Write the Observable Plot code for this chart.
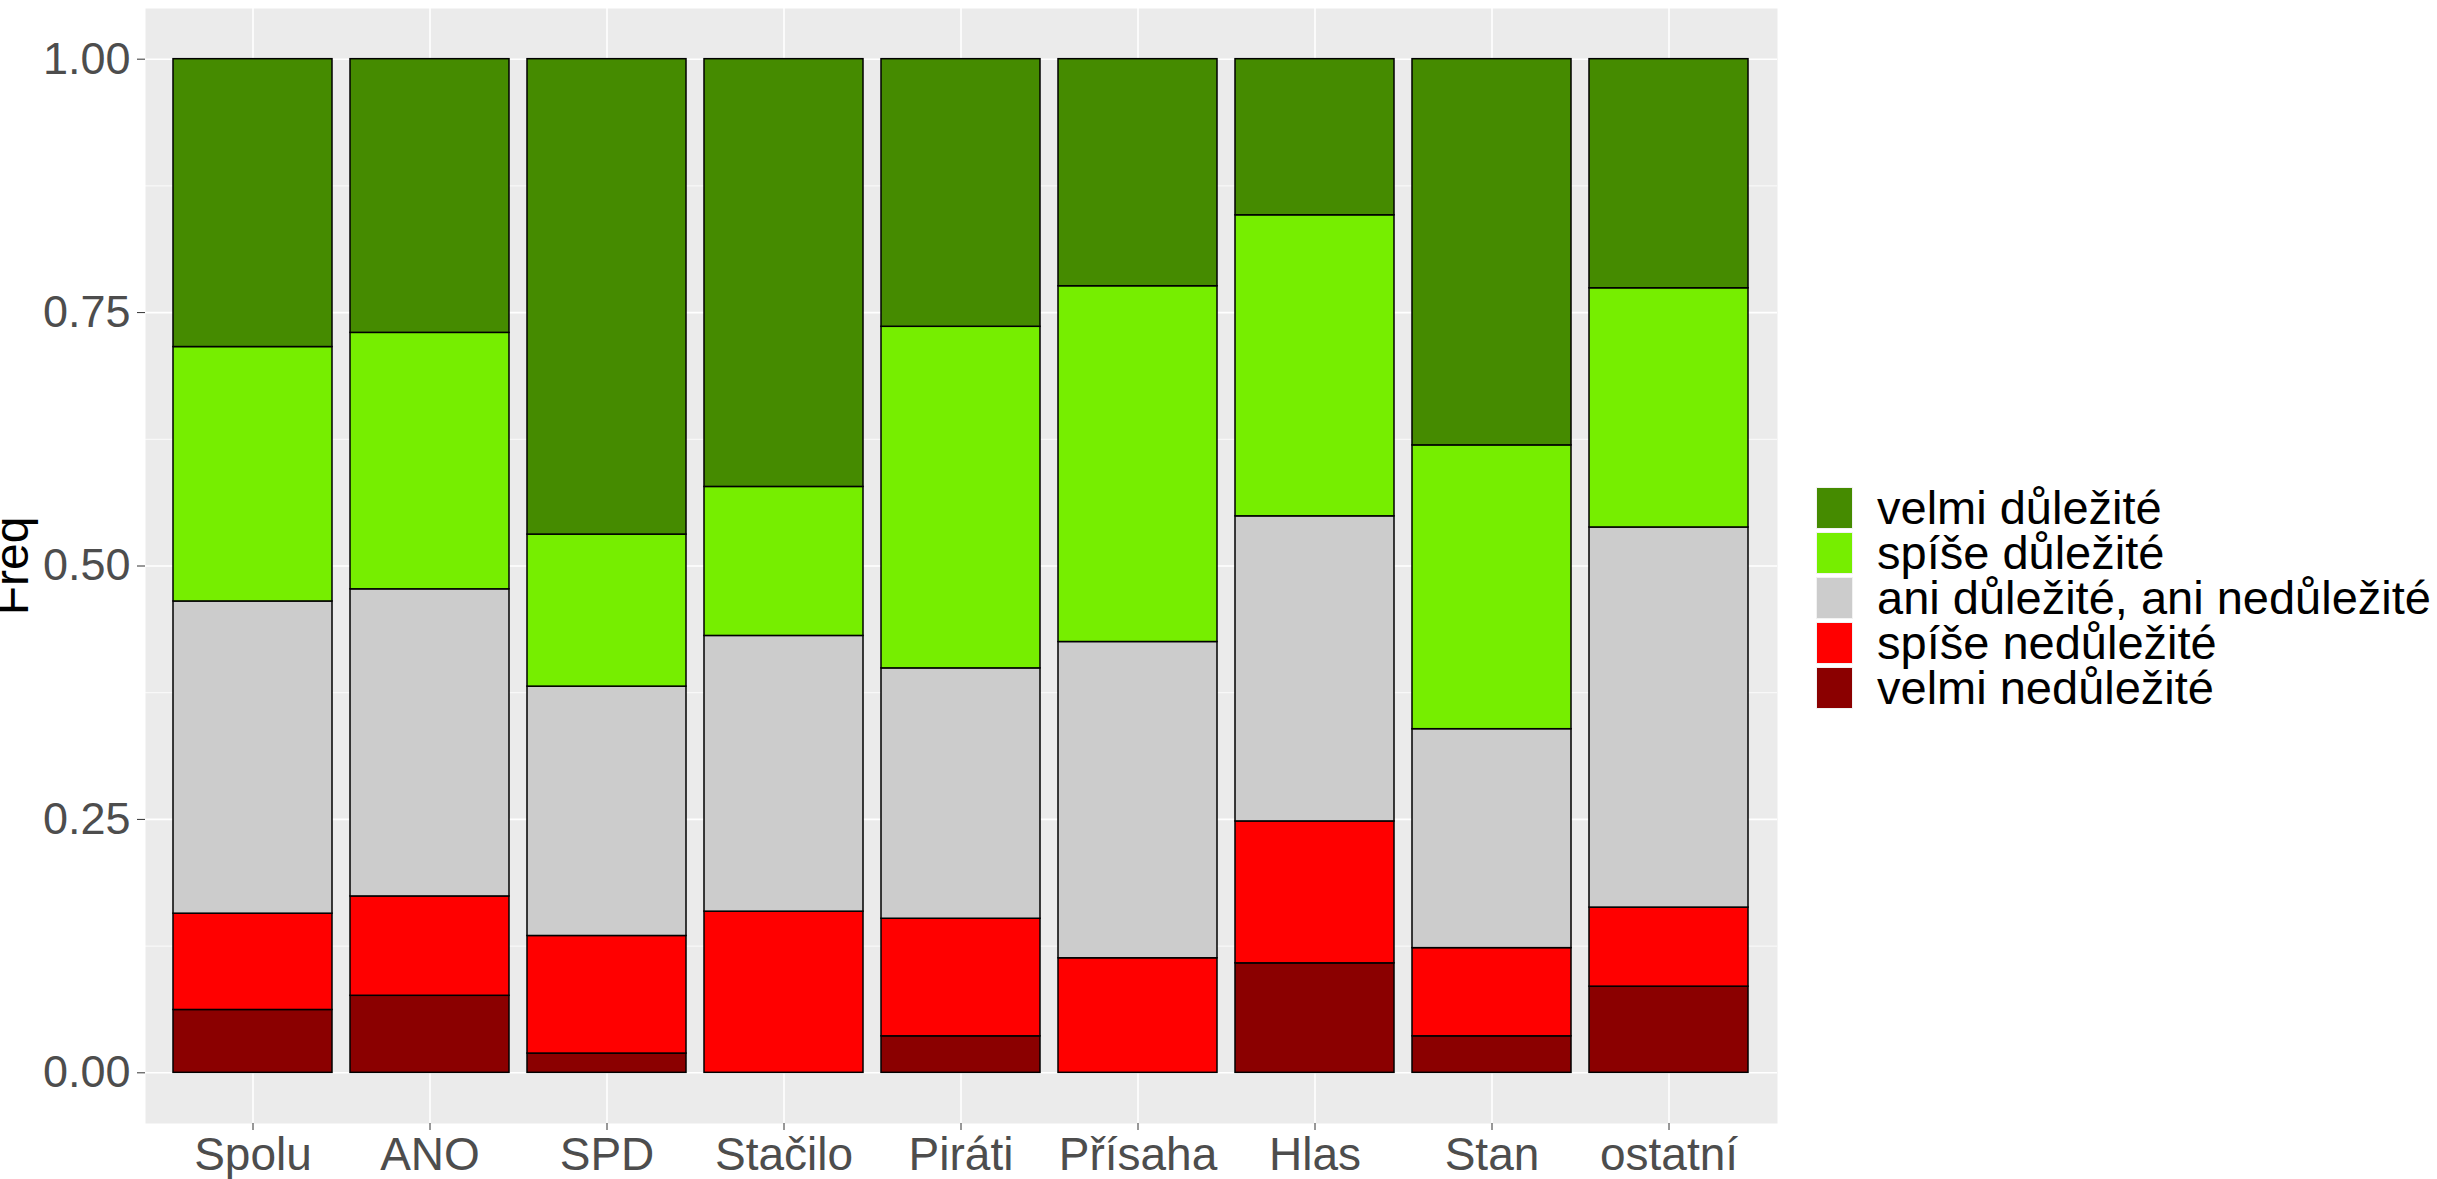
<!DOCTYPE html>
<html>
<head>
<meta charset="utf-8">
<script src="https://cdn.jsdelivr.net/npm/d3@7"></script>
<script src="https://cdn.jsdelivr.net/npm/@observablehq/plot@0.6"></script>
<style>
  body { margin: 0; background: #ffffff; font-family: "Liberation Sans", Arial, sans-serif; }
  #wrap { position: relative; width: 2437px; height: 1179px; overflow: hidden; }
  #legend { position: absolute; left: 1816px; top: 487px; }
  .row { position: relative; height: 45px; }
  .key { position: absolute; left: 0; top: 0; width: 35px; height: 40px; border: 1px solid #f2f2f2; }
  .lab { position: absolute; left: 61px; top: 0; font-size: 47px; line-height: 42px; color: #000; white-space: nowrap; }
</style>
</head>
<body>
<div id="wrap"><div id="chart"></div><div id="legend"></div></div>
<script>
// Categories (x axis)
const parties = ["Spolu", "ANO", "SPD", "Stačilo", "Piráti", "Přísaha", "Hlas", "Stan", "ostatní"];
// Response levels, bottom of stack first
const levels = ["velmi nedůležité", "spíše nedůležité", "ani důležité, ani nedůležité", "spíše důležité", "velmi důležité"];
const levelColors = ["#8B0000", "#FF0000", "#CCCCCC", "#76EE00", "#458B00"];
// Shares per level, one value per party (same order as parties)
const velmiNedulezite = [0.062, 0.076, 0.019, 0.000, 0.036, 0.000, 0.108, 0.036, 0.085];
const spiseNedulezite = [0.095, 0.098, 0.116, 0.159, 0.116, 0.113, 0.140, 0.087, 0.078];
const aniAni          = [0.308, 0.303, 0.246, 0.272, 0.247, 0.312, 0.301, 0.216, 0.375];
const spiseDulezite   = [0.251, 0.253, 0.150, 0.147, 0.337, 0.351, 0.297, 0.280, 0.236];
const velmiDulezite   = [0.284, 0.270, 0.469, 0.422, 0.264, 0.224, 0.154, 0.381, 0.226];
const yTicks = [0, 0.25, 0.5, 0.75, 1];
const yMinor = [0.125, 0.375, 0.625, 0.875];

const series = [velmiNedulezite, spiseNedulezite, aniAni, spiseDulezite, velmiDulezite];
const data = [];
levels.forEach((lev, i) => parties.forEach((p, j) => data.push({party: p, level: lev, value: series[i][j]})));

const chart = Plot.plot({
  width: 2437,
  height: 1179,
  marginLeft: 145,
  marginRight: 660,
  marginTop: 8,
  marginBottom: 56,
  style: {fontFamily: "'Liberation Sans', Arial, sans-serif", background: "transparent"},
  x: {domain: parties, paddingInner: 0.1, paddingOuter: 0.15, label: null},
  y: {domain: [-0.05, 1.05], label: null},
  color: {domain: levels, range: levelColors},
  marks: [
    Plot.frame({fill: "#EBEBEB", stroke: null}),
    Plot.gridY(yMinor, {stroke: "#FFFFFF", strokeOpacity: 1, strokeWidth: 0.8}),
    Plot.gridY(yTicks, {stroke: "#FFFFFF", strokeOpacity: 1, strokeWidth: 1.6}),
    Plot.gridX({stroke: "#FFFFFF", strokeOpacity: 1, strokeWidth: 1.6}),
    Plot.barY(data, Plot.stackY({order: null}, {x: "party", y: "value", fill: "level", stroke: "#000000", strokeWidth: 1.5, filter: d => d.value > 0})),
    Plot.axisX({fontSize: 46, tickSize: 7, tickPadding: 7, stroke: "#333333", fill: "#4D4D4D", label: null}),
    Plot.axisY(yTicks, {fontSize: 45, tickSize: 8, tickPadding: 7, stroke: "#333333", fill: "#4D4D4D", tickFormat: d => d.toFixed(2), label: null}),
    Plot.text(["Freq"], {frameAnchor: "left", dx: -133, rotate: -90, fontSize: 48, fill: "#000000", textAnchor: "middle", lineAnchor: "middle"})
  ]
});
document.getElementById("chart").appendChild(chart);

// Legend (top to bottom: velmi důležité first)
const legend = document.getElementById("legend");
for (let i = levels.length - 1; i >= 0; i--) {
  const row = document.createElement("div");
  row.className = "row";
  const key = document.createElement("div");
  key.className = "key";
  key.style.background = levelColors[i];
  const lab = document.createElement("div");
  lab.className = "lab";
  lab.textContent = levels[i];
  row.appendChild(key);
  row.appendChild(lab);
  legend.appendChild(row);
}
</script>
</body>
</html>
